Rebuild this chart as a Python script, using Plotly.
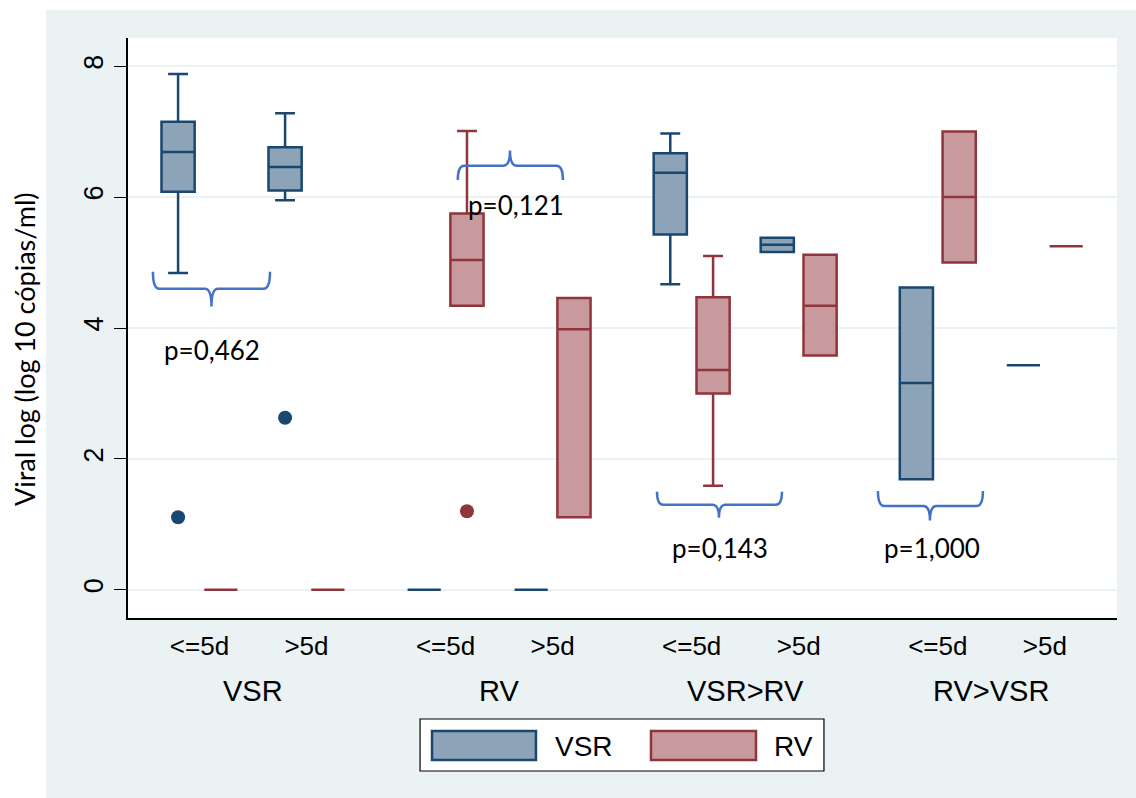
import plotly.graph_objects as go

# ---------------- data ----------------
groups = ["VSR", "RV", "VSR>RV", "RV>VSR"]
timings = ["<=5d", ">5d"]
series_names = ["VSR", "RV"]

# box statistics, ordered group-major: (VSR,<=5d), (VSR,>5d), (RV,<=5d), ...
vsr_q1 = [6.08, 6.10, 0.0, 0.0, 5.43, 5.16, 1.69, 3.43]
vsr_median = [6.69, 6.46, 0.0, 0.0, 6.37, 5.27, 3.16, 3.43]
vsr_q3 = [7.15, 6.76, 0.0, 0.0, 6.67, 5.38, 4.62, 3.43]
vsr_lower = [4.84, 5.95, 0.0, 0.0, 4.67, 5.16, 1.69, 3.43]
vsr_upper = [7.88, 7.28, 0.0, 0.0, 6.97, 5.38, 4.62, 3.43]

rv_q1 = [0.0, 0.0, 4.34, 1.11, 3.00, 3.58, 5.00, 5.25]
rv_median = [0.0, 0.0, 5.04, 3.98, 3.36, 4.34, 6.00, 5.25]
rv_q3 = [0.0, 0.0, 5.75, 4.46, 4.47, 5.12, 7.00, 5.25]
rv_lower = [0.0, 0.0, 4.34, 1.11, 1.59, 3.58, 5.00, 5.25]
rv_upper = [0.0, 0.0, 7.01, 4.46, 5.10, 5.12, 7.00, 5.25]

# outside values: category index -> value
vsr_out_cat = [0, 1]
vsr_out_val = [1.11, 2.63]
rv_out_cat = [2]
rv_out_val = [1.20]

# p-values of the comparisons
p_labels = ["p=0,462", "p=0,121", "p=0,143", "p=1,000"]

y_ticks = [0, 2, 4, 6, 8]

# ---------------- styling / layout ----------------
NAVY = "#1A476F"
NAVY_FILL = "#8DA3B7"
MAROON = "#90353B"
MAROON_FILL = "#C89A9D"
BG = "#EAF2F3"
BRACE = "#4472C4"

GROUP_STEP = 2.3
OFFSET = {"VSR": -0.2, "RV": 0.2}
BOX_W = 0.31

cat_x = [g * GROUP_STEP + t for g in range(len(groups)) for t in range(len(timings))]
cat_text = [timings[t] for g in range(len(groups)) for t in range(len(timings))]

fig = go.Figure()

specs = [
    ("VSR", vsr_q1, vsr_median, vsr_q3, vsr_lower, vsr_upper, NAVY, NAVY_FILL),
    ("RV", rv_q1, rv_median, rv_q3, rv_lower, rv_upper, MAROON, MAROON_FILL),
]
for name, q1, med, q3, lo, hi, lc, fc in specs:
    fig.add_trace(go.Box(
        name=name,
        x=[c + OFFSET[name] for c in cat_x],
        q1=q1, median=med, q3=q3, lowerfence=lo, upperfence=hi,
        width=BOX_W, whiskerwidth=0.6,
        fillcolor=fc, line=dict(color=lc, width=2.5),
        boxpoints=False, showlegend=False,
    ))

for name, cats, vals, col in [("VSR", vsr_out_cat, vsr_out_val, NAVY),
                              ("RV", rv_out_cat, rv_out_val, MAROON)]:
    fig.add_trace(go.Scatter(
        x=[cat_x[c] + OFFSET[name] for c in cats], y=vals,
        mode="markers", marker=dict(color=col, size=14),
        showlegend=False, name=name,
    ))

# ---------- braces (hand-drawn annotation geometry, data coords) ----------
def brace_path(x0, x1, y_end, y_base, y_tip, xm):
    r = 0.06
    return (f"M{x0},{y_end} Q{x0},{y_base} {x0 + r},{y_base} "
            f"L{xm - r},{y_base} Q{xm},{y_base} {xm},{y_tip} "
            f"Q{xm},{y_base} {xm + r},{y_base} L{x1 - r},{y_base} "
            f"Q{x1},{y_base} {x1},{y_end}")

braces = [
    # x0, x1, y_end, y_base, y_tip, x_mid, text_x, text_y
    (-0.435, 0.659, 4.86, 4.60, 4.33, 0.112, 0.117, 3.66),
    (2.414, 3.397, 6.26, 6.48, 6.71, 2.902, 2.96, 5.88),
    (4.276, 5.444, 1.50, 1.30, 1.10, 4.855, 4.86, 0.64),
    (6.341, 7.322, 1.51, 1.28, 1.06, 6.827, 6.85, 0.64),
]
shapes = []
annotations = []
for (x0, x1, ye, yb, yt, xm, tx, ty), lab in zip(braces, p_labels):
    shapes.append(dict(type="path", xref="x", yref="y",
                       path=brace_path(x0, x1, ye, yb, yt, xm),
                       line=dict(color=BRACE, width=2.5), layer="above"))
    annotations.append(dict(x=tx, y=ty, xref="x", yref="y", text=lab,
                            showarrow=False,
                            font=dict(family="Lato", size=26, color="black")))

# group labels under the sub-category ticks
for g, grp in enumerate(groups):
    annotations.append(dict(x=g * GROUP_STEP + 0.5, y=-0.126, xref="x", yref="paper",
                            text=grp, showarrow=False, yanchor="middle",
                            font=dict(family="Liberation Sans", size=29, color="black")))

# y-axis title
annotations.append(dict(x=-0.1041, y=0.4638, xref="paper", yref="paper",
                        text="Viral log (log 10 cópias/ml)", textangle=-90,
                        showarrow=False, xanchor="center", yanchor="middle",
                        font=dict(family="Lato", size=27, color="black")))

# white strips outside Stata's graph region
shapes.append(dict(type="rect", xref="paper", yref="paper", x0=-0.3, x1=1.1,
                   y0=1.0483, y1=1.1, fillcolor="white", line=dict(width=0), layer="below"))
shapes.append(dict(type="rect", xref="paper", yref="paper", x0=-0.3, x1=-0.0829,
                   y0=-0.4, y1=1.1, fillcolor="white", line=dict(width=0), layer="below"))

# custom legend (Stata style, wide swatches)
shapes.append(dict(type="rect", xref="paper", yref="paper", x0=0.2953, x1=0.7037,
                   y0=-0.2638, y1=-0.1741, fillcolor="white",
                   line=dict(color="black", width=1.2)))
for (x0, x1, tx), name, lc, fc in [((0.3074, 0.4125, 0.4297), "VSR", NAVY, NAVY_FILL),
                                   ((0.5288, 0.6350, 0.6512), "RV", MAROON, MAROON_FILL)]:
    shapes.append(dict(type="rect", xref="paper", yref="paper", x0=x0, x1=x1,
                       y0=-0.2448, y1=-0.1948, fillcolor=fc,
                       line=dict(color=lc, width=2.5)))
    annotations.append(dict(x=tx, y=-0.2207, xref="paper", yref="paper", text=name,
                            showarrow=False, xanchor="left", yanchor="middle",
                            font=dict(family="Liberation Sans", size=28, color="black")))

fig.update_layout(
    width=1136, height=798,
    margin=dict(l=128, r=19, t=38, b=180),
    paper_bgcolor=BG, plot_bgcolor="white",
    boxmode="overlay",
    showlegend=False,
    shapes=shapes, annotations=annotations,
    xaxis=dict(range=[-0.668, 8.575], tickvals=cat_x, ticktext=cat_text,
               ticks="", showgrid=False, zeroline=False,
               showline=True, linecolor="black", linewidth=1.5,
               ticklabelstandoff=4,
               tickfont=dict(family="Liberation Sans", size=26, color="black")),
    yaxis=dict(range=[-0.43, 8.43], tickvals=y_ticks, ticks="outside",
               ticklen=12, tickwidth=1.2, tickcolor="black",
               showgrid=True, gridcolor=BG, gridwidth=2, zeroline=False,
               showline=True, linecolor="black", linewidth=1.5,
               tickangle=-90, ticklabelstandoff=0,
               tickfont=dict(family="Liberation Sans", size=27, color="black")),
)

fig.write_html("out.html", config={"displayModeBar": False},
               post_script="document.body.style.margin='0';document.body.style.overflow='hidden';")
